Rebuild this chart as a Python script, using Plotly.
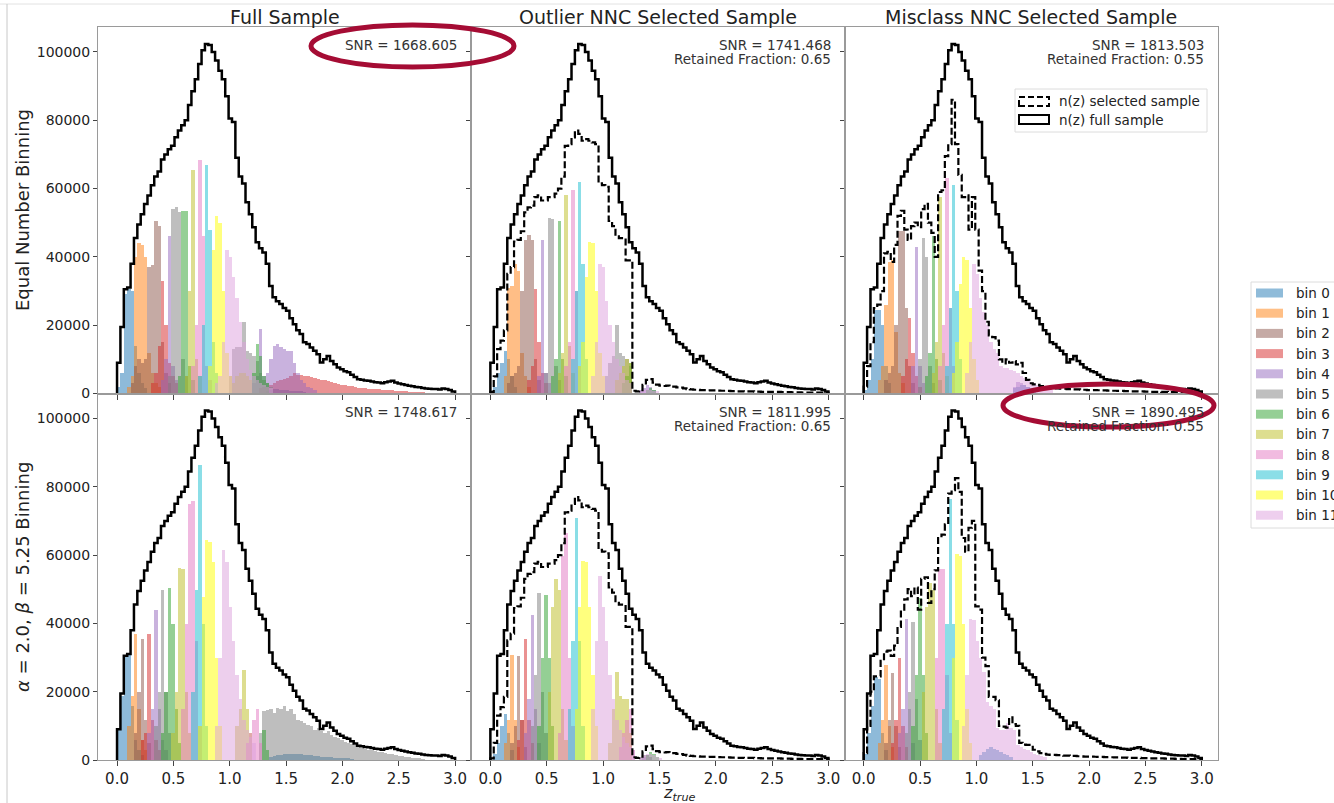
import plotly.graph_objects as go
from plotly.subplots import make_subplots

# ---------------- data ----------------
BW = 0.03  # histogram bin width in z_true (100 bins over 0..3)

z_ticks = [0.0, 0.5, 1.0, 1.5, 2.0, 2.5, 3.0]
z_tick_labels = ['0.0', '0.5', '1.0', '1.5', '2.0', '2.5', '3.0']
count_ticks = [0, 20000, 40000, 60000, 80000, 100000]
count_tick_labels = ['0', '20000', '40000', '60000', '80000', '100000']

col_titles = ['Full Sample', 'Outlier NNC Selected Sample', 'Misclass NNC Selected Sample']
row_titles = ['Equal Number Binning', '<i>α</i> = 2.0, <i>β</i> = 5.25 Binning']
x_title = '<i>z</i><sub><i>true</i></sub>'

bin_names = ['bin 0', 'bin 1', 'bin 2', 'bin 3', 'bin 4', 'bin 5',
             'bin 6', 'bin 7', 'bin 8', 'bin 9', 'bin 10', 'bin 11']
bin_colors = ['#1f77b4', '#ff7f0e', '#8c564b', '#d62728', '#9467bd', '#7f7f7f',
              '#2ca02c', '#bcbd22', '#e377c2', '#17becf', '#ffff00', '#dda0dd']

snr_text = [['SNR = 1668.605', 'SNR = 1741.468', 'SNR = 1813.503'],
            ['SNR = 1748.617', 'SNR = 1811.995', 'SNR = 1890.495']]
retained_text = [[None, 'Retained Fraction: 0.65', 'Retained Fraction: 0.55'],
                 [None, 'Retained Fraction: 0.65', 'Retained Fraction: 0.55']]
sel_legend_labels = ['n(z) selected sample', 'n(z) full sample']

# n(z) of the full sample (same in every panel)
n_full = [9000, 19500, 30500, 31000, 38000, 45500, 49500, 52500, 55500, 58000,
          61000, 63500, 65000, 68500, 70000, 71500, 72500, 75000, 77000, 78500,
          80000, 84500, 88500, 92000, 96500, 100500, 102300, 102000, 100000, 97500,
          94500, 92000, 87000, 80500, 79500, 69000, 63500, 61500, 56000, 52500,
          48700, 44300, 42500, 41300, 38000, 31500, 28200, 27000, 26200, 25000,
          24200, 22000, 20300, 18500, 17400, 15000, 14500, 13500, 12500, 11500,
          9100, 10000, 11000, 9500, 8600, 7600, 7100, 6500, 6200, 5500,
          4800, 4200, 4000, 3800, 3700, 3500, 3300, 3200, 3000, 3300,
          3500, 3700, 3200, 2900, 2700, 2500, 2300, 2100, 1900, 1800,
          1600, 1500, 1400, 1300, 1300, 1200, 1500, 1300, 1000, 600]

# n(z) of the selected samples
n_sel_outlier = [500, 5000, 13000, 15500, 18500, 35000, 37000, 44500, 45000, 47500,
                 53000, 54500, 55000, 57500, 58000, 56500, 56500, 57500, 57500, 58500,
                 60000, 63500, 72500, 73000, 75000, 77000, 76000, 74000, 74500, 74000,
                 73500, 73000, 61500, 61000, 60500, 50500, 49000, 46000, 45500, 45500,
                 39000, 39000, 800, 600, 1000, 2500, 4000, 4200, 3200, 2600,
                 2300, 2200, 2300, 2000, 2000, 1800, 1700, 1500, 1300, 1200,
                 1100, 1100, 1000, 1000, 950, 900, 900, 850, 800, 800,
                 750, 700, 700, 650, 650, 600, 600, 600, 550, 550,
                 500, 500, 500, 450, 450, 450, 400, 400, 400, 350,
                 350, 350, 300, 300, 300, 300, 250, 250, 250, 200]

n_sel_misclass_eq = [2000, 8000, 15000, 25000, 26000, 30000, 41000, 41500, 38500, 43500,
                     52000, 53500, 48000, 45000, 49000, 50000, 48700, 54000, 55500, 50000,
                     47000, 40000, 59000, 59500, 69500, 73000, 86000, 73000, 64000, 57500,
                     58000, 48000, 57500, 48000, 36000, 30000, 21000, 17000, 16500, 15500,
                     10000, 8800, 10000, 9000, 9500, 8500, 9000, 6000, 4000, 3000,
                     2700, 2500, 2200, 2000, 1800, 1600, 1500, 1500, 1400, 1400,
                     1300, 1300, 1200, 1200, 1100, 1100, 1000, 1000, 1000, 950,
                     900, 900, 850, 800, 800, 750, 750, 700, 700, 650,
                     650, 600, 600, 550, 550, 500, 500, 500, 450, 450,
                     400, 400, 400, 350, 350, 300, 300, 300, 250, 200]

n_sel_misclass_ab = [2000, 10000, 20000, 24500, 24500, 29000, 31700, 32000, 30500, 33500,
                     39000, 44000, 47000, 50000, 48000, 50500, 44000, 53000, 53500, 46000,
                     50000, 55500, 65000, 66000, 69000, 78000, 79000, 82500, 78500, 65000,
                     61000, 68000, 70000, 45000, 44000, 30000, 27500, 18500, 18500, 17500,
                     10000, 9800, 9500, 12500, 10500, 10000, 5000, 4500, 4400, 4400,
                     3000, 2500, 2000, 1800, 1600, 1500, 1500, 1400, 1400, 1300,
                     1300, 1200, 1200, 1100, 1100, 1000, 1000, 1000, 950, 900,
                     900, 850, 800, 800, 750, 750, 700, 700, 650, 650,
                     600, 600, 550, 550, 500, 500, 500, 450, 450, 400,
                     400, 400, 350, 350, 300, 300, 300, 250, 250, 200]

# tomographic-bin histograms: per bin a list of [first histogram-bin index, counts]
eq_full_bins = [
    [[0, [2000, 6000, 29000, 30500, 30000, 14000, 6000, 3000, 1500]],
     [44, [800, 1000, 1200, 1200, 1000, 1000, 900, 800, 700, 700, 600, 500]]],
    [[3, [2000, 5000, 40000, 44000, 43500, 40000, 12000, 6000, 3000, 2000]]],
    [[4, [3000, 8000, 10000, 9000, 10000, 37000, 37500, 50500, 49000, 15000, 6000, 3000]]],
    [[10, [3000, 6000, 14000, 33000, 20000, 9000, 5000, 3000]],
     [42, [1500, 1800, 2000, 2600, 3200, 3600, 4000, 4200, 4600, 5200, 6000, 5500, 5500,
           5200, 5200, 4900, 4600, 4200, 3900, 4000, 3600, 3300, 3100, 2900, 2600, 2400,
           2300, 2100, 1800, 1750, 1600, 1500, 1400, 1300, 1250, 1200, 1100, 1050, 1000,
           900, 800, 700, 650, 600, 500, 450, 400, 300, 250]]],
    [[13, [4000, 10000, 46000, 8000, 4000]],
     [40, [3000, 5000, 19000, 5000, 6000, 10000, 14000, 14500, 13500, 13000, 12500, 12500,
           9000, 6000, 4000, 3000, 2000, 1500, 1000]]],
    [[15, [5000, 54000, 54500, 53000, 10000, 5000]],
     [33, [5000, 13000, 13500, 13500, 21000, 12500, 12000, 11000, 9500, 6000, 4000, 3000, 2000]]],
    [[18, [5000, 53500, 53500, 8000, 4000]],
     [40, [6000, 14500, 11000, 5000, 3000]]],
    [[20, [5000, 30000, 65500, 10000, 5000]],
     [34, [3000, 5000, 6000, 6000, 5000, 4000]]],
    [[22, [8000, 20000, 68500, 46000, 8000, 4000]]],
    [[24, [5000, 20000, 67000, 48000, 15000, 6000]]],
    [[27, [8000, 42000, 52000, 50000, 30000, 12000, 5000]]],
    [[29, [3000, 5000, 15000, 42000, 40000, 34000, 28000, 21000, 15000, 10000, 7000, 5000,
           4000, 3000, 2500, 2000, 1500]]],
]

eq_outlier_bins = [
    [[1, [2000, 6000, 9000, 12500, 10000, 5000, 2000]]],
    [[4, [5000, 31000, 31500, 38000, 36000, 12000, 5000, 2000]]],
    [[5, [3000, 5000, 6000, 8000, 30000, 45000, 46500, 45000, 10000, 4000]]],
    [[11, [4000, 8000, 30500, 15000, 6000, 3000]]],
    [[14, [5000, 45000, 6000, 3000]], [44, [1000, 1500, 2500, 2000, 1000]]],
    [[16, [6000, 51500, 51000, 8000, 4000]],
     [34, [5000, 9000, 11000, 20000, 12000, 11000, 10000, 8000]]],
    [[18, [5000, 10000, 50500, 10000, 5000]], [39, [3000, 5000, 9000]], [46, [1000, 1500, 1000]]],
    [[20, [6000, 12000, 58000, 14000, 6000]], [37, [4000, 6000, 8000, 10000, 9000]]],
    [[22, [8000, 15000, 59500, 30000, 8000]]],
    [[24, [10000, 30000, 62000, 38000, 10000]]],
    [[26, [8000, 15000, 34000, 44500, 44000, 30000, 12000, 5000]]],
    [[30, [5000, 15000, 38000, 37000, 27000, 20000, 15000, 10000, 8000, 6000, 4000, 3000]],
     [44, [800, 1000, 1200, 1000, 800, 600]]],
]

eq_misclass_bins = [
    [[0, [1000, 4000, 10000, 24500, 24500, 20000, 8000, 3000]],
     [44, [1500, 2000, 2500, 2500, 2000, 1500, 1000]]],
    [[4, [4000, 8000, 26000, 38500, 39000, 18000, 6000, 3000]]],
    [[6, [4000, 6000, 8000, 20000, 47500, 47500, 25000, 8000, 3000]]],
    [[11, [5000, 10000, 22000, 12000, 5000, 2000]]],
    [[14, [8000, 43000, 8000, 3000]], [44, [2000, 3500, 3000, 2500, 2000]]],
    [[16, [10000, 45500, 40000, 8000, 3000]]],
    [[18, [5000, 12000, 46000, 10000, 4000]]],
    [[20, [6000, 15000, 57500, 12000, 5000]]],
    [[22, [8000, 20000, 63000, 25000, 8000]]],
    [[24, [8000, 25000, 61000, 30000, 10000]]],
    [[26, [6000, 15000, 32000, 40000, 39000, 25000, 10000, 4000]]],
    [[30, [6000, 15000, 38000, 35000, 28000, 24000, 20000, 15000, 13000, 12000, 8000, 7500,
           7500, 7000, 6500, 6000, 5000, 4500, 4000, 3500, 3000, 2500, 2000, 1500, 1200, 1000]]],
]

ab_full_bins = [
    [[0, [9000, 19000, 30500, 31000, 16000, 6000, 3000, 1500]],
     [45, [1000, 1200, 1500, 1500, 1800, 2000, 2000, 2000, 1800, 1800, 1500, 1500, 1500,
           1200, 1200, 1000, 1000, 1000, 900, 800, 700, 700, 600, 600, 500]]],
    [[3, [10000, 19000, 37000, 15000, 6000, 3000]]],
    [[5, [8000, 20000, 35500, 12000, 5000]]],
    [[7, [6000, 8000, 37000, 12000, 6000, 3000]]],
    [[9, [8000, 15000, 44000, 15000, 6000, 3000]]],
    [[11, [10000, 20000, 50000, 20000, 8000]],
     [42, [8000, 14500, 14800, 15000, 14000, 15500, 15000, 16000, 14500, 15000, 13500, 12000,
           11500, 11000, 10500, 10000, 9000, 9500, 8500, 8000, 8500, 7500, 7000, 6500, 6000,
           5500, 5000, 4800, 4500, 4000, 3800, 3500, 3200, 3000, 2800, 2600, 2400, 2200,
           2000, 1800, 1600, 1400, 1200, 1000, 900, 800, 700, 600, 500]]],
    [[13, [8000, 20000, 50500, 40000, 15000, 5000]], [43, [9000, 3000]]],
    [[16, [8000, 20000, 56500, 56000, 20000, 8000]], [35, [10000, 15000, 26500, 15000, 8000]]],
    [[19, [15000, 40000, 75000, 76000, 35000, 10000]], [38, [5000, 8000, 12000, 15000, 5000]]],
    [[22, [20000, 50000, 86500, 40000, 10000]]],
    [[24, [10000, 48000, 64500, 64000, 58000, 30000, 10000]]],
    [[29, [10000, 30000, 61500, 58000, 45000, 35000, 25000, 18000, 12000, 9000, 7000, 5000]]],
]

ab_outlier_bins = [
    [[1, [2000, 5000, 10000, 13500, 8000, 3000]]],
    [[4, [5000, 12000, 31000, 12000, 4000]]],
    [[6, [5000, 10000, 30500, 12000, 4000]]],
    [[8, [6000, 12000, 35500, 12000, 5000]]],
    [[10, [8000, 18000, 42500, 15000, 5000]], [45, [1000, 1500, 1000]]],
    [[12, [10000, 25000, 49000, 20000, 8000]], [44, [1000, 1500, 1500, 1000]]],
    [[14, [10000, 30000, 48500, 30000, 10000]], [46, [1500, 2500, 2000, 1000]]],
    [[17, [20000, 45000, 53000, 50000, 15000, 6000]],
     [35, [5000, 15000, 26000, 19000, 18000, 18000, 8000]]],
    [[20, [8000, 60000, 66500, 30000, 10000]], [38, [4000, 8000, 12000, 15000, 3000]]],
    [[23, [15000, 35000, 71000, 35000, 10000]]],
    [[25, [15000, 45000, 58500, 58000, 45000, 25000, 10000]]],
    [[30, [15000, 35000, 54000, 45000, 35000, 25000, 18000, 12000, 9000, 7000, 5000, 4000, 3000]],
     [44, [1000, 1500, 2000, 2000, 1500, 1000, 800]]],
]

ab_misclass_bins = [
    [[0, [2000, 8000, 16000, 24500, 24000, 8000, 3000]],
     [34, [1500, 2500, 3500, 4000, 3500, 3000, 2500, 2000, 1500, 1000]]],
    [[4, [5000, 12000, 28000, 10000, 4000]]],
    [[6, [5000, 12000, 25500, 10000, 4000]]],
    [[8, [5000, 12000, 30000, 10000, 4000]]],
    [[10, [8000, 15000, 41500, 15000, 5000]]],
    [[12, [8000, 20000, 40500, 18000, 6000]]],
    [[14, [10000, 25000, 47500, 25000, 8000]]],
    [[17, [20000, 45000, 52000, 50000, 15000, 5000]]],
    [[21, [30000, 56000, 56000, 25000, 8000]]],
    [[23, [15000, 40000, 76500, 40000, 12000]]],
    [[26, [30000, 60500, 60000, 40000, 15000, 5000]]],
    [[29, [10000, 25000, 41500, 41000, 35000, 30000, 26000, 17000, 16000, 15000, 9500, 9000,
           9000, 11000, 9500, 9000, 4500, 4000, 3500, 3000, 2500, 2000, 1500, 1200, 1000]]],
]

panel_bins = [[eq_full_bins, eq_outlier_bins, eq_misclass_bins],
              [ab_full_bins, ab_outlier_bins, ab_misclass_bins]]
panel_selected = [[None, n_sel_outlier, n_sel_misclass_eq],
                  [None, n_sel_outlier, n_sel_misclass_ab]]

# ---------------- geometry ----------------
W, H = 1334, 803
ML, MR, MT, MB = 98, 116, 27, 43
PW, PH = W - ML - MR, H - MT - MB
FONT = 'DejaVu Sans'


def px_x(px):
    return (px - ML) / PW


def px_y(py):
    return 1 - (py - MT) / PH


def step_xy(vals):
    xs, ys = [0.0], [0.0]
    for i, v in enumerate(vals):
        xs.append(i * BW)
        ys.append(v)
    xs.append(len(vals) * BW)
    ys.append(0)
    return xs, ys


def bars_xy(segments):
    xs, ys = [], []
    for start, vals in segments:
        for j, v in enumerate(vals):
            xs.append((start + j + 0.5) * BW)
            ys.append(v)
    return xs, ys


fig = make_subplots(rows=2, cols=3, horizontal_spacing=0, vertical_spacing=0)

for r in range(2):
    for c in range(3):
        for k in range(12):
            bx, by = bars_xy(panel_bins[r][c][k])
            fig.add_trace(go.Bar(x=bx, y=by, width=BW, opacity=0.5,
                                 marker=dict(color=bin_colors[k], line=dict(width=0)),
                                 name=bin_names[k], showlegend=False, hoverinfo='skip'),
                          row=r + 1, col=c + 1)
        sel = panel_selected[r][c]
        if sel is not None:
            sx, sy = step_xy(sel)
            fig.add_trace(go.Scatter(x=sx, y=sy, mode='lines', line_shape='hv',
                                     line=dict(color='black', width=2.2, dash='7px,3px'),
                                     showlegend=False, hoverinfo='skip'),
                          row=r + 1, col=c + 1)
        fx, fy = step_xy(n_full)
        fig.add_trace(go.Scatter(x=fx, y=fy, mode='lines', line_shape='hv',
                                 line=dict(color='black', width=2.5),
                                 showlegend=False, hoverinfo='skip'),
                      row=r + 1, col=c + 1)

for r in range(2):
    for c in range(3):
        fig.update_xaxes(range=[-0.169, 3.144], tickvals=z_ticks, ticktext=z_tick_labels,
                         showticklabels=(r == 1), ticks='outside', ticklen=5,
                         tickcolor='#444', showline=True, mirror=True, linecolor='#9a9a9a',
                         linewidth=1, showgrid=False, zeroline=False,
                         tickfont=dict(family=FONT, size=15, color='#222'),
                         row=r + 1, col=c + 1)
        fig.update_yaxes(range=[0, 107300], tickvals=count_ticks, ticktext=count_tick_labels,
                         showticklabels=(c == 0), ticks='outside', ticklen=4,
                         tickcolor='#444', showline=True, mirror=True, linecolor='#9a9a9a',
                         linewidth=1, showgrid=False, zeroline=False,
                         tickfont=dict(family=FONT, size=14, color='#222'),
                         row=r + 1, col=c + 1)

annotations = []
shapes = []
col_left = [ML + PW * c / 3 for c in range(3)]
col_right = [ML + PW * (c + 1) / 3 for c in range(3)]
row_top = [MT, MT + PH / 2]

for c in range(3):
    annotations.append(dict(text=col_titles[c], x=px_x((col_left[c] + col_right[c]) / 2),
                            y=1, xref='paper', yref='paper', xanchor='center',
                            yanchor='bottom', showarrow=False, yshift=-3,
                            font=dict(family=FONT, size=19, color='#222')))

for r in range(2):
    for c in range(3):
        annotations.append(dict(text=snr_text[r][c], x=px_x(col_right[c] - 12),
                                y=px_y(row_top[r] + 18), xref='paper', yref='paper',
                                xanchor='right', yanchor='middle', showarrow=False,
                                font=dict(family=FONT, size=13.5, color='#333')))
        if retained_text[r][c]:
            annotations.append(dict(text=retained_text[r][c], x=px_x(col_right[c] - 12),
                                    y=px_y(row_top[r] + 32.5), xref='paper', yref='paper',
                                    xanchor='right', yanchor='middle', showarrow=False,
                                    font=dict(family=FONT, size=13.5, color='#333')))

# row labels
annotations.append(dict(text=row_titles[0], x=px_x(22), y=px_y(210), xref='paper', yref='paper',
                        textangle=-90, showarrow=False, xanchor='center', yanchor='middle',
                        font=dict(family=FONT, size=18, color='#222')))
annotations.append(dict(text=row_titles[1], x=px_x(22), y=px_y(577), xref='paper', yref='paper',
                        textangle=-90, showarrow=False, xanchor='center', yanchor='middle',
                        font=dict(family=FONT, size=18, color='#222')))
# x label
annotations.append(dict(text=x_title, x=px_x(679), y=px_y(806), xref='paper', yref='paper',
                        showarrow=False, xanchor='center', yanchor='bottom',
                        font=dict(family=FONT, size=16, color='#222')))

# legend: n(z) selected / full (inside top-right panel)
shapes.append(dict(type='rect', xref='paper', yref='paper', x0=px_x(1015), x1=px_x(1207),
                   y0=px_y(132), y1=px_y(89), line=dict(color='#dcdcdc', width=1),
                   fillcolor='rgba(255,255,255,0.85)', layer='above'))
shapes.append(dict(type='rect', xref='paper', yref='paper', x0=px_x(1019), x1=px_x(1049),
                   y0=px_y(106), y1=px_y(97), line=dict(color='black', width=2, dash='6px,3px'),
                   fillcolor='rgba(0,0,0,0)', layer='above'))
shapes.append(dict(type='rect', xref='paper', yref='paper', x0=px_x(1019), x1=px_x(1049),
                   y0=px_y(124), y1=px_y(115), line=dict(color='black', width=2),
                   fillcolor='rgba(0,0,0,0)', layer='above'))
annotations.append(dict(text=sel_legend_labels[0], x=px_x(1057), y=px_y(101), xref='paper',
                        yref='paper', xanchor='left', yanchor='middle', showarrow=False,
                        font=dict(family=FONT, size=13.5, color='#222')))
annotations.append(dict(text=sel_legend_labels[1], x=px_x(1057), y=px_y(120), xref='paper',
                        yref='paper', xanchor='left', yanchor='middle', showarrow=False,
                        font=dict(family=FONT, size=13.5, color='#222')))

# legend: tomographic bins (right side, cut by the page edge as in the original)
shapes.append(dict(type='rect', xref='paper', yref='paper', x0=px_x(1251), x1=px_x(1350),
                   y0=px_y(528), y1=px_y(282), line=dict(color='#dcdcdc', width=1),
                   fillcolor='white', layer='above'))
for k in range(12):
    yc = 293 + 20.2 * k
    shapes.append(dict(type='rect', xref='paper', yref='paper', x0=px_x(1256), x1=px_x(1283),
                       y0=px_y(yc + 4.5), y1=px_y(yc - 4.5), line=dict(width=0),
                       fillcolor=bin_colors[k], opacity=0.5, layer='above'))
    annotations.append(dict(text=bin_names[k], x=px_x(1294), y=px_y(yc), xref='paper',
                            yref='paper', xanchor='left', yanchor='middle', showarrow=False,
                            font=dict(family=FONT, size=13.5, color='#222')))

# highlight ellipses
shapes.append(dict(type='circle', xref='paper', yref='paper', x0=px_x(311), x1=px_x(514),
                   y0=px_y(67), y1=px_y(25), line=dict(color='#a50c34', width=5), layer='above'))
shapes.append(dict(type='circle', xref='paper', yref='paper', x0=px_x(1003), x1=px_x(1214),
                   y0=px_y(427), y1=px_y(384), line=dict(color='#a50c34', width=5), layer='above'))

# outer page frame
shapes.append(dict(type='line', xref='paper', yref='paper', x0=px_x(0), x1=px_x(1334),
                   y0=px_y(4), y1=px_y(4), line=dict(color='#e2e2e2', width=1)))
shapes.append(dict(type='line', xref='paper', yref='paper', x0=px_x(7), x1=px_x(7),
                   y0=px_y(4), y1=px_y(803), line=dict(color='#c8c8c8', width=1)))

fig.update_layout(width=W, height=H, margin=dict(l=ML, r=MR, t=MT, b=MB),
                  barmode='overlay', bargap=0, plot_bgcolor='white', paper_bgcolor='white',
                  showlegend=False, annotations=annotations, shapes=shapes,
                  font=dict(family=FONT, color='#222'))

# the page's default 8px body margin would shift the figure; remove it
fig.write_html('out.html', config={'displayModeBar': False},
               post_script="document.body.style.margin='0px';"
                           "document.body.style.overflow='hidden';")
